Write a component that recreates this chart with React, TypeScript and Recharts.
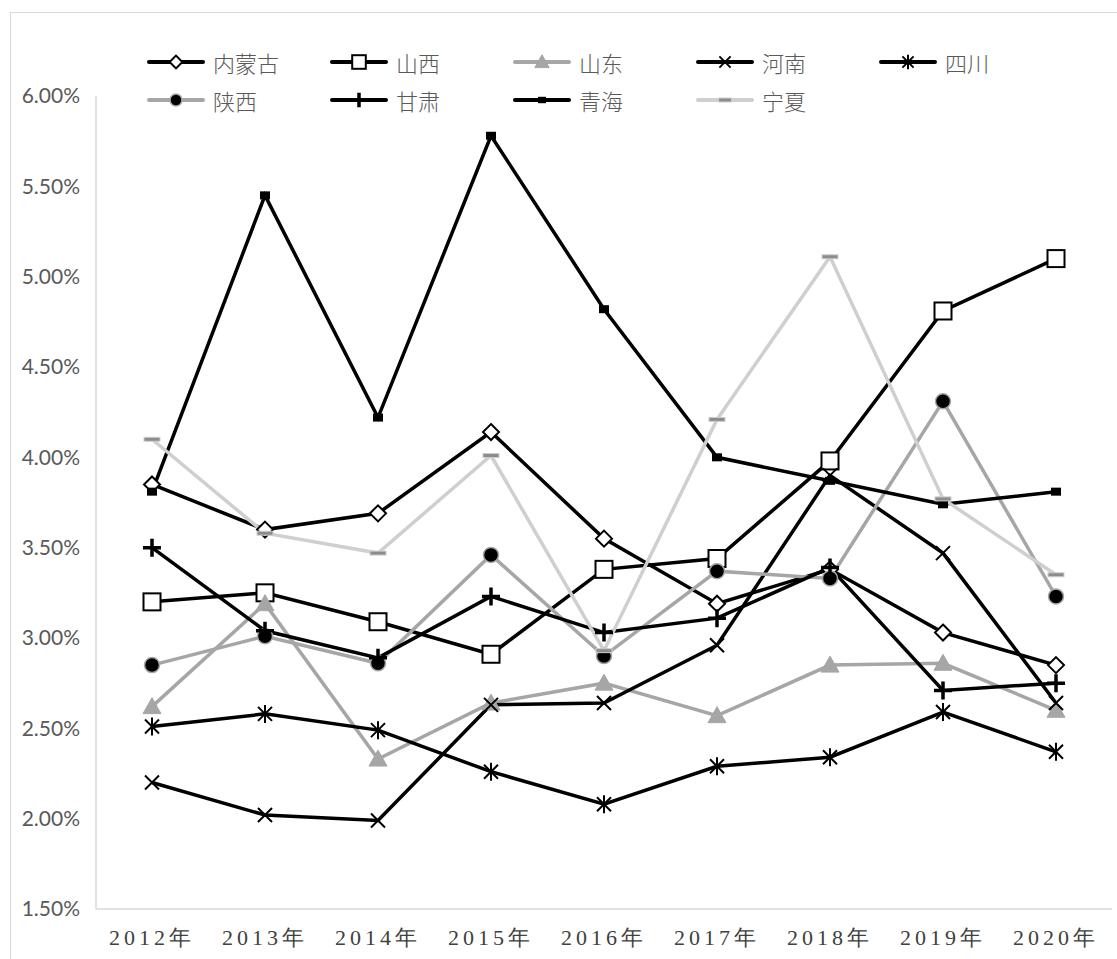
import React from 'react';
import { CartesianGrid, Legend, Line, LineChart, XAxis, YAxis } from 'recharts';

const years = ['2012年', '2013年', '2014年', '2015年', '2016年', '2017年', '2018年', '2019年', '2020年'];
const yTicks = [1.5, 2, 2.5, 3, 3.5, 4, 4.5, 5, 5.5, 6];

// values in percent
const neimenggu = [3.85, 3.6, 3.69, 4.14, 3.55, 3.19, 3.38, 3.03, 2.85];
const shanxi = [3.2, 3.25, 3.09, 2.91, 3.38, 3.44, 3.98, 4.81, 5.1];
const shandong = [2.62, 3.19, 2.33, 2.64, 2.75, 2.57, 2.85, 2.86, 2.6];
const henan = [2.2, 2.02, 1.99, 2.63, 2.64, 2.96, 3.9, 3.47, 2.64];
const sichuan = [2.51, 2.58, 2.49, 2.26, 2.08, 2.29, 2.34, 2.59, 2.37];
const shaanxi = [2.85, 3.01, 2.86, 3.46, 2.9, 3.37, 3.33, 4.31, 3.23];
const gansu = [3.5, 3.04, 2.89, 3.23, 3.03, 3.11, 3.39, 2.71, 2.75];
const qinghai = [3.81, 5.45, 4.22, 5.78, 4.82, 4.0, 3.87, 3.74, 3.81];
const ningxia = [4.1, 3.58, 3.47, 4.01, 2.93, 4.21, 5.11, 3.77, 3.35];

const data = years.map((year, i) => ({
  year,
  内蒙古: neimenggu[i],
  山西: shanxi[i],
  山东: shandong[i],
  河南: henan[i],
  四川: sichuan[i],
  陕西: shaanxi[i],
  甘肃: gansu[i],
  青海: qinghai[i],
  宁夏: ningxia[i],
}));

const BLACK = '#000000';
const GRAY = '#a6a6a6';
const LIGHT = '#cfcfcf';

type MarkProps = { x: number; y: number; s?: number };

const Diamond = ({ x, y, s = 1 }: MarkProps) => (
  <path
    d={`M${x},${y - 8 * s} L${x + 8 * s},${y} L${x},${y + 8 * s} L${x - 8 * s},${y} Z`}
    fill="#fff"
    stroke={BLACK}
    strokeWidth={2}
  />
);
const Square = ({ x, y, s = 1 }: MarkProps) => (
  <rect x={x - 8.5 * s} y={y - 8.5 * s} width={17 * s} height={17 * s} fill="#fff" stroke={BLACK} strokeWidth={2} />
);
const Triangle = ({ x, y, s = 1 }: MarkProps) => (
  <path d={`M${x},${y - 9 * s} L${x + 9 * s},${y + 7 * s} L${x - 9 * s},${y + 7 * s} Z`} fill={GRAY} stroke={GRAY} strokeWidth={1} />
);
const Cross = ({ x, y, s = 1 }: MarkProps) => (
  <path
    d={`M${x - 7 * s},${y - 7 * s} L${x + 7 * s},${y + 7 * s} M${x + 7 * s},${y - 7 * s} L${x - 7 * s},${y + 7 * s}`}
    stroke={BLACK}
    strokeWidth={2}
  />
);
const Star = ({ x, y, s = 1 }: MarkProps) => (
  <path
    d={`M${x - 7 * s},${y - 7 * s} L${x + 7 * s},${y + 7 * s} M${x + 7 * s},${y - 7 * s} L${x - 7 * s},${y + 7 * s} M${x},${y - 9 * s} L${x},${y + 9 * s}`}
    stroke={BLACK}
    strokeWidth={2}
  />
);
const Circle = ({ x, y, s = 1 }: MarkProps) => (
  <circle cx={x} cy={y} r={7.5 * s} fill={BLACK} stroke={GRAY} strokeWidth={1.5} />
);
const Plus = ({ x, y, s = 1 }: MarkProps) => (
  <path d={`M${x - 9 * s},${y} L${x + 9 * s},${y} M${x},${y - 9 * s} L${x},${y + 9 * s}`} stroke={BLACK} strokeWidth={3.5} />
);
const Block = ({ x, y, s = 1 }: MarkProps) => (
  <rect x={x - 5 * s} y={y - 4 * s} width={10 * s} height={8 * s} fill={BLACK} />
);
const Dash = ({ x, y, s = 1 }: MarkProps) => (
  <rect x={x - 8 * s} y={y - 2} width={16 * s} height={4} fill="#8c8c8c" stroke={LIGHT} strokeWidth={1} />
);

const series = [
  { key: '内蒙古', color: BLACK, Mark: Diamond },
  { key: '山西', color: BLACK, Mark: Square },
  { key: '山东', color: GRAY, Mark: Triangle },
  { key: '河南', color: BLACK, Mark: Cross },
  { key: '四川', color: BLACK, Mark: Star },
  { key: '陕西', color: GRAY, Mark: Circle },
  { key: '甘肃', color: BLACK, Mark: Plus },
  { key: '青海', color: BLACK, Mark: Block },
  { key: '宁夏', color: LIGHT, Mark: Dash },
];

const makeDot = (Mark: React.FC<MarkProps>, name: string) => (props: any) => {
  if (props.cx == null || props.cy == null) return <g key={`${name}-${props.index}`} />;
  return (
    <g key={`${name}-${props.index}`}>
      <Mark x={props.cx} y={props.cy} />
    </g>
  );
};

function ChartLegend() {
  return (
    <div
      style={{
        display: 'grid',
        gridTemplateColumns: 'repeat(5, 183px)',
        gridAutoRows: '38px',
        fontFamily: '"Noto Sans CJK SC", sans-serif',
        fontWeight: 300,
        fontSize: 22,
        color: '#595959',
      }}
    >
      {series.map(({ key, color, Mark }) => (
        <div key={key} style={{ display: 'flex', alignItems: 'center' }}>
          <svg width={58} height={24} style={{ marginRight: 8 }}>
            <line x1={2} y1={12} x2={56} y2={12} stroke={color} strokeWidth={4} strokeLinecap="round" />
            <Mark x={29} y={12} s={0.8} />
          </svg>
          <span>{key}</span>
        </div>
      ))}
    </div>
  );
}

export default function App() {
  return (
    <div
      style={{
        position: 'absolute',
        left: 0,
        top: 0,
        width: 1117,
        height: 959,
        overflow: 'hidden',
        background: '#fff',
      }}
    >
      <div
        style={{
          position: 'absolute',
          left: 10,
          top: 12,
          width: 1200,
          height: 1000,
          borderLeft: '1.5px solid #d9d9d9',
          borderTop: '1.5px solid #d9d9d9',
        }}
      />
      <LineChart width={1117} height={959} data={data} margin={{ top: 96, right: 5, bottom: 0, left: 0 }}>
        <CartesianGrid horizontal={false} vertical={false} />
        <XAxis
          dataKey="year"
          height={50}
          padding={{ left: 56, right: 56 }}
          axisLine={{ stroke: '#d9d9d9', strokeWidth: 1.5 }}
          tickLine={false}
          tickSize={6}
          tickMargin={14}
          tick={{ fill: '#404040', fontSize: 22, fontFamily: '"Liberation Serif", serif', letterSpacing: 4 }}
          interval={0}
        />
        <YAxis
          width={96}
          domain={[1.5, 6]}
          ticks={yTicks}
          allowDataOverflow
          axisLine={{ stroke: '#d9d9d9', strokeWidth: 1.5 }}
          tickLine={false}
          tickSize={6}
          tickMargin={10}
          tickFormatter={(v: number) => `${v.toFixed(2)}%`}
          tick={{ fill: '#595959', fontSize: 21, fontFamily: 'Lato, sans-serif' }}
        />
        <Legend
          layout="horizontal"
          verticalAlign="middle"
          align="center"
          wrapperStyle={{ left: 147, top: 43, width: 930 }}
          content={() => <ChartLegend />}
        />
        {series.map(({ key, color, Mark }) => (
          <Line
            key={key}
            dataKey={key}
            stroke={color}
            strokeWidth={3.5}
            dot={makeDot(Mark, key)}
            activeDot={false}
            isAnimationActive={false}
          />
        ))}
      </LineChart>
    </div>
  );
}
